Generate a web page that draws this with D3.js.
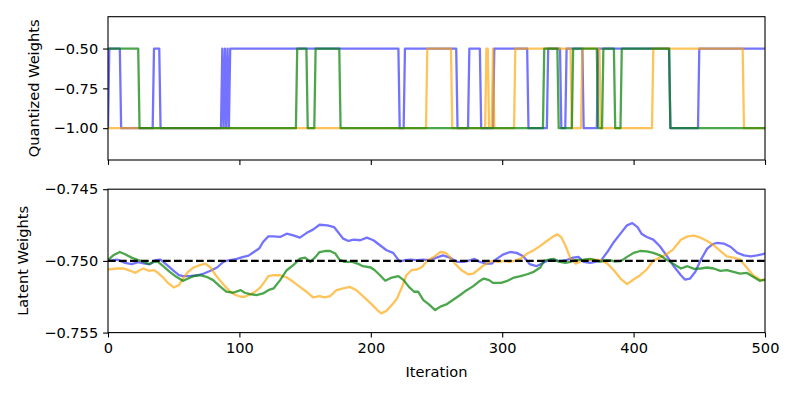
<!DOCTYPE html>
<html><head><meta charset="utf-8">
<script src="https://cdn.jsdelivr.net/npm/d3@7"></script>
<style>body{margin:0;background:#fff} svg text{font-family:"DejaVu Sans",sans-serif;fill:#000}</style>
</head><body><svg id="c" width="797" height="399"></svg>
<script>
// ---------- data ----------
const xTicks = [0, 100, 200, 300, 400, 500];
const quantTicks = [-0.5, -0.75, -1.0];
const latentTicks = [-0.745, -0.750, -0.755];
const seriesNames = ["blue", "orange", "green"];
const seriesColors = ["#0000ff", "#ffa500", "#008000"];
const seriesAlpha = [0.55, 0.65, 0.7];

// quantized weights: starting value and iterations where the value flips
const blueQuantStart = -1.0;
const blueQuantFlips = [1, 10, 35, 40, 87, 88, 89, 90, 91, 92, 93, 222, 226, 266, 275, 284, 294, 320, 335, 345, 349, 362, 373, 428, 450];
const orangeQuantStart = -1.0;
const orangeQuantFlips = [243, 262, 288, 290, 293, 294, 310, 353, 361, 375, 415, 484];
const greenQuantStart = -0.5;
const greenQuantFlips = [24, 144, 152, 158, 177, 332, 343, 354, 373, 377, 386, 391, 428];
const quantLevels = [-0.5, -1.0];

// latent weights: [iteration, value]
const blueLatent = [[0,-0.75000],[7,-0.74991],[13,-0.75014],[18,-0.75023],[23,-0.75009],[28,-0.75019],[32,-0.75023],[36,-0.74995],[40,-0.74991],[45,-0.75030],[50,-0.75069],[54,-0.75100],[57,-0.75106],[62,-0.75106],[68,-0.75100],[73,-0.75088],[78,-0.75069],[83,-0.75046],[88,-0.75005],[90,-0.75000],[93,-0.74995],[98,-0.74986],[103,-0.74972],[107,-0.74963],[111,-0.74938],[115,-0.74914],[118,-0.74868],[122,-0.74829],[126,-0.74829],[131,-0.74833],[136,-0.74810],[141,-0.74822],[146,-0.74838],[151,-0.74806],[156,-0.74782],[161,-0.74748],[167,-0.74752],[172,-0.74764],[175,-0.74799],[179,-0.74845],[183,-0.74861],[187,-0.74852],[192,-0.74856],[197,-0.74838],[202,-0.74856],[207,-0.74891],[212,-0.74926],[217,-0.74944],[222,-0.75005],[226,-0.74995],[230,-0.74991],[235,-0.74995],[240,-0.74991],[245,-0.74995],[250,-0.74977],[255,-0.74961],[260,-0.74977],[266,-0.75007],[271,-0.75007],[276,-0.74995],[279,-0.74986],[283,-0.75007],[288,-0.75019],[292,-0.75019],[296,-0.74984],[301,-0.74954],[306,-0.74938],[311,-0.74944],[316,-0.74968],[321,-0.75023],[326,-0.75037],[331,-0.75014],[334,-0.75000],[337,-0.74991],[339,-0.74995],[344,-0.75002],[349,-0.74995],[354,-0.74977],[358,-0.74972],[362,-0.75007],[367,-0.75014],[371,-0.75007],[375,-0.75000],[380,-0.74938],[385,-0.74868],[390,-0.74810],[395,-0.74752],[399,-0.74736],[403,-0.74764],[406,-0.74810],[410,-0.74833],[415,-0.74852],[420,-0.74898],[425,-0.74961],[430,-0.75030],[436,-0.75100],[439,-0.75130],[443,-0.75123],[447,-0.75076],[451,-0.74995],[456,-0.74914],[460,-0.74884],[463,-0.74875],[469,-0.74880],[474,-0.74903],[479,-0.74944],[484,-0.74961],[489,-0.74968],[494,-0.74961],[500,-0.74949]];
const orangeLatent = [[0,-0.75060],[7,-0.75053],[12,-0.75053],[17,-0.75069],[21,-0.75083],[24,-0.75065],[27,-0.75053],[31,-0.75069],[35,-0.75065],[38,-0.75083],[42,-0.75116],[46,-0.75157],[50,-0.75185],[54,-0.75169],[57,-0.75123],[61,-0.75076],[65,-0.75046],[70,-0.75030],[74,-0.75019],[78,-0.75046],[82,-0.75100],[85,-0.75134],[89,-0.75176],[93,-0.75215],[97,-0.75238],[101,-0.75250],[104,-0.75250],[108,-0.75234],[112,-0.75215],[116,-0.75185],[120,-0.75134],[122,-0.75106],[126,-0.75100],[131,-0.75100],[136,-0.75116],[141,-0.75146],[146,-0.75181],[151,-0.75215],[156,-0.75255],[161,-0.75245],[165,-0.75255],[169,-0.75245],[174,-0.75204],[179,-0.75192],[184,-0.75181],[189,-0.75204],[194,-0.75245],[200,-0.75296],[205,-0.75343],[208,-0.75366],[212,-0.75347],[216,-0.75308],[220,-0.75262],[224,-0.75176],[227,-0.75100],[231,-0.75065],[235,-0.75060],[239,-0.75042],[243,-0.74998],[248,-0.74972],[253,-0.74938],[257,-0.74944],[260,-0.74972],[264,-0.75019],[269,-0.75065],[274,-0.75093],[278,-0.75088],[282,-0.75060],[286,-0.75030],[290,-0.75007],[293,-0.75000],[297,-0.75007],[301,-0.75000],[305,-0.75007],[309,-0.75000],[314,-0.74984],[319,-0.74949],[324,-0.74926],[329,-0.74895],[334,-0.74861],[339,-0.74829],[342,-0.74815],[345,-0.74835],[348,-0.74891],[352,-0.74984],[356,-0.75019],[359,-0.75005],[363,-0.74993],[370,-0.74991],[375,-0.74995],[380,-0.75019],[385,-0.75065],[390,-0.75123],[395,-0.75162],[400,-0.75130],[405,-0.75100],[410,-0.75060],[415,-0.74998],[420,-0.74977],[425,-0.74954],[430,-0.74921],[436,-0.74852],[441,-0.74829],[446,-0.74824],[451,-0.74838],[456,-0.74861],[461,-0.74891],[466,-0.74931],[471,-0.74968],[476,-0.74977],[481,-0.74991],[486,-0.75046],[491,-0.75100],[496,-0.75130],[500,-0.75134]];
const greenLatent = [[0,-0.74995],[4,-0.74961],[9,-0.74938],[13,-0.74954],[18,-0.74977],[23,-0.74995],[27,-0.75005],[31,-0.75023],[35,-0.75007],[38,-0.75007],[42,-0.75037],[47,-0.75076],[52,-0.75111],[57,-0.75139],[61,-0.75123],[65,-0.75106],[70,-0.75100],[75,-0.75111],[80,-0.75134],[85,-0.75176],[90,-0.75215],[95,-0.75222],[101,-0.75204],[104,-0.75222],[108,-0.75232],[113,-0.75238],[118,-0.75227],[122,-0.75204],[126,-0.75192],[131,-0.75134],[136,-0.75065],[141,-0.75030],[146,-0.74984],[150,-0.74977],[154,-0.75007],[158,-0.74972],[161,-0.74938],[165,-0.74931],[169,-0.74931],[173,-0.74949],[176,-0.74990],[180,-0.75007],[186,-0.75007],[191,-0.75023],[194,-0.75037],[200,-0.75046],[203,-0.75065],[207,-0.75100],[211,-0.75139],[216,-0.75116],[221,-0.75106],[225,-0.75134],[229,-0.75181],[233,-0.75215],[236,-0.75215],[240,-0.75273],[244,-0.75301],[249,-0.75343],[253,-0.75319],[258,-0.75301],[263,-0.75269],[268,-0.75238],[273,-0.75204],[278,-0.75176],[282,-0.75146],[286,-0.75123],[290,-0.75134],[293,-0.75153],[299,-0.75153],[304,-0.75139],[309,-0.75116],[314,-0.75106],[319,-0.75093],[324,-0.75076],[329,-0.75046],[332,-0.74997],[334,-0.74995],[339,-0.74986],[343,-0.75005],[348,-0.75014],[352,-0.75007],[355,-0.74995],[362,-0.74991],[367,-0.74986],[372,-0.74998],[373,-0.75003],[375,-0.75005],[378,-0.74995],[382,-0.74995],[386,-0.75005],[390,-0.75002],[392,-0.74991],[395,-0.74972],[400,-0.74944],[405,-0.74931],[410,-0.74933],[415,-0.74944],[420,-0.74961],[425,-0.74991],[430,-0.75019],[436,-0.75053],[441,-0.75037],[446,-0.75056],[451,-0.75053],[456,-0.75046],[461,-0.75053],[466,-0.75069],[471,-0.75065],[476,-0.75076],[481,-0.75088],[486,-0.75083],[491,-0.75111],[496,-0.75139],[500,-0.75130]];
const referenceLatent = -0.75;
const xLabel = "Iteration";
const topYLabel = "Quantized Weights";
const bottomYLabel = "Latent Weights";

// ---------- layout ----------
const L = 108, R = 765;
const top1 = 16.7, bot1 = 160;
const top2 = 189.2, bot2 = 332.6;
const tickLen = 4.9, tickPad = 4.9, fontPx = 14.6, lw = 2.3;

const svg = d3.select("#c");
const x = d3.scaleLinear().domain([0, 500]).range([L, R]);
const yQ = d3.scaleLinear().domain([-1.2, -0.3]).range([bot1, top1]);
const yL = d3.scaleLinear().domain([-0.755, -0.745]).range([bot2, top2]);

function stepPoints(start, flips) {
  const pts = [[0, start]];
  let cur = start;
  flips.forEach(f => {
    const next = cur === quantLevels[0] ? quantLevels[1] : quantLevels[0];
    pts.push([f - 1, cur]);
    pts.push([f, next]);
    cur = next;
  });
  pts.push([500, cur]);
  return pts;
}

const quantSeries = [
  stepPoints(blueQuantStart, blueQuantFlips),
  stepPoints(orangeQuantStart, orangeQuantFlips),
  stepPoints(greenQuantStart, greenQuantFlips)
];
const latentSeries = [blueLatent, orangeLatent, greenLatent];

svg.append("defs").call(d => {
  d.append("clipPath").attr("id", "cp1").append("rect").attr("x", L).attr("y", top1).attr("width", R - L).attr("height", bot1 - top1);
  d.append("clipPath").attr("id", "cp2").append("rect").attr("x", L).attr("y", top2).attr("width", R - L).attr("height", bot2 - top2);
});

const lineQ = d3.line().x(d => x(d[0])).y(d => yQ(d[1]));
const gQ = svg.append("g").attr("clip-path", "url(#cp1)");
quantSeries.forEach((s, i) => {
  gQ.append("path").attr("d", lineQ(s)).attr("fill", "none")
    .attr("stroke", seriesColors[i]).attr("stroke-opacity", seriesAlpha[i])
    .attr("stroke-width", lw).attr("stroke-linejoin", "round");
});

const lineL = d3.line().x(d => x(d[0])).y(d => yL(d[1]));
const gL = svg.append("g").attr("clip-path", "url(#cp2)");
latentSeries.forEach((s, i) => {
  gL.append("path").attr("d", lineL(s)).attr("fill", "none")
    .attr("stroke", seriesColors[i]).attr("stroke-opacity", seriesAlpha[i])
    .attr("stroke-width", lw).attr("stroke-linejoin", "round");
});
gL.append("line").attr("x1", x(0)).attr("x2", x(500))
  .attr("y1", yL(referenceLatent)).attr("y2", yL(referenceLatent))
  .attr("stroke", "#000").attr("stroke-width", lw).attr("stroke-dasharray", "7.7,3.3");

function styleAxis(g) {
  g.select(".domain").remove();
  g.selectAll(".tick line").attr("stroke", "#000").attr("stroke-width", 1.1);
  g.selectAll(".tick text").style("font-size", fontPx + "px").style("font-family", "DejaVu Sans");
}
const fmtQ = d3.format(".2f"), fmtL = d3.format(".3f");
svg.append("g").attr("transform", `translate(${L},0)`)
  .call(d3.axisLeft(yQ).tickValues(quantTicks).tickFormat(fmtQ).tickSize(tickLen).tickPadding(tickPad)).call(styleAxis);
svg.append("g").attr("transform", `translate(${L},0)`)
  .call(d3.axisLeft(yL).tickValues(latentTicks).tickFormat(fmtL).tickSize(tickLen).tickPadding(tickPad)).call(styleAxis);
svg.append("g").attr("transform", `translate(0,${bot1})`)
  .call(d3.axisBottom(x).tickValues(xTicks).tickFormat("").tickSize(tickLen)).call(styleAxis);
svg.append("g").attr("transform", `translate(0,${bot2})`)
  .call(d3.axisBottom(x).tickValues(xTicks).tickFormat(d3.format("d")).tickSize(tickLen).tickPadding(tickPad)).call(styleAxis);

[[top1, bot1], [top2, bot2]].forEach(([t, b]) => {
  svg.append("rect").attr("x", L).attr("y", t).attr("width", R - L).attr("height", b - t)
    .attr("fill", "none").attr("stroke", "#000").attr("stroke-width", 1.1);
});

svg.append("text").attr("x", (L + R) / 2).attr("y", 377).attr("text-anchor", "middle")
  .style("font-size", fontPx + "px").text(xLabel);
svg.append("text").attr("transform", `translate(39,${(top1 + bot1) / 2}) rotate(-90)`).attr("text-anchor", "middle")
  .style("font-size", fontPx + "px").text(topYLabel);
svg.append("text").attr("transform", `translate(28,${(top2 + bot2) / 2}) rotate(-90)`).attr("text-anchor", "middle")
  .style("font-size", fontPx + "px").text(bottomYLabel);
</script></body></html>
